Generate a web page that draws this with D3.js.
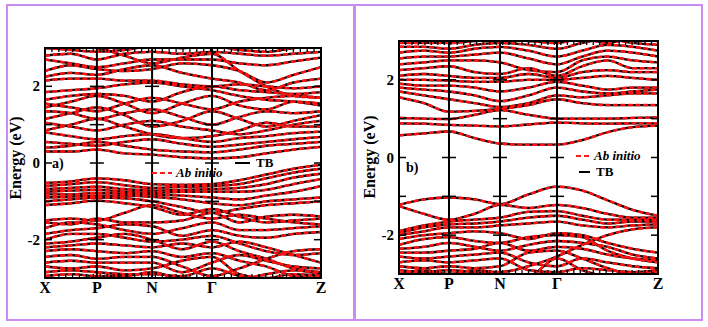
<!DOCTYPE html>
<html>
<head>
<meta charset="utf-8">
<script src="https://cdn.jsdelivr.net/npm/d3@7"></script>
<style>
  body { margin: 0; background: #fff; }
  svg { display: block; }
  text { font-family: "Liberation Serif", "Times New Roman", serif; font-weight: bold; }
</style>
</head>
<body>
<div class="canvas"></div>
<script>
// k-path labels and positions (fraction of path length)
const kLabels = ['X', 'P', 'N', 'Γ', 'Z'];
const kSymA = [0, 0.188, 0.388, 0.605, 1];
const kSymB = [0, 0.193, 0.390, 0.610, 1];
// sample points along the path for each band
const kA = [0, 0.094, 0.188, 0.288, 0.388, 0.497, 0.605, 0.704, 0.802, 0.901, 1];
const kB = [0, 0.096, 0.193, 0.292, 0.390, 0.500, 0.610, 0.707, 0.805, 0.902, 1];

const yTicks = [-2, -1, 0, 1, 2];
const yTickLabels = ['-2', '', '0', '', '2'];

// panel a) bands (eV)
const condA = [
  [0.30, 0.30, 0.35, 0.25, 0.22, 0.15, 0.12, 0.15, 0.25, 0.35, 0.42],
  [0.40, 0.45, 0.55, 0.45, 0.35, 0.30, 0.28, 0.35, 0.45, 0.50, 0.55],
  [0.55, 0.50, 0.45, 0.55, 0.62, 0.50, 0.42, 0.48, 0.55, 0.62, 0.68],
  [0.80, 0.70, 0.62, 0.70, 0.75, 0.65, 0.55, 0.65, 0.70, 0.78, 0.82],
  [0.85, 1.00, 1.15, 0.95, 0.75, 0.65, 0.70, 0.85, 1.05, 0.95, 0.95],
  [1.05, 0.95, 0.85, 1.00, 1.10, 0.95, 0.85, 0.75, 0.85, 1.00, 1.10],
  [1.15, 1.30, 1.45, 1.25, 0.95, 1.10, 1.35, 1.15, 0.95, 1.10, 1.25],
  [1.35, 1.30, 1.15, 1.30, 1.40, 1.20, 1.00, 1.20, 1.35, 1.30, 1.35],
  [1.45, 1.60, 1.75, 1.55, 1.30, 1.55, 1.75, 1.50, 1.40, 1.60, 1.55],
  [1.55, 1.45, 1.35, 1.55, 1.70, 1.55, 1.40, 1.60, 1.70, 1.75, 1.70],
  [1.65, 1.75, 1.80, 1.75, 1.60, 1.85, 2.00, 1.90, 1.85, 1.80, 1.85],
  [1.85, 1.90, 1.95, 2.05, 2.10, 2.00, 1.90, 1.75, 1.65, 1.60, 1.50],
  [2.15, 2.20, 2.20, 2.15, 2.15, 2.05, 2.00, 2.05, 2.00, 1.95, 2.00],
  [2.25, 2.35, 2.30, 2.45, 2.55, 2.35, 2.20, 2.10, 1.90, 2.10, 2.20],
  [2.40, 2.55, 2.45, 2.40, 2.45, 2.60, 2.55, 2.40, 2.10, 2.30, 2.50],
  [2.70, 2.60, 2.50, 2.60, 2.70, 2.70, 2.70, 2.60, 2.55, 2.65, 2.75],
  [2.80, 2.85, 2.70, 2.85, 2.90, 2.85, 2.90, 2.85, 2.80, 2.85, 2.90],
  [3.00, 2.95, 2.90, 2.95, 3.05, 3.00, 3.05, 2.95, 2.90, 3.00, 3.05],
  [3.10, 3.05, 3.00, 2.80, 2.60, 2.75, 2.85, 2.40, 2.00, 1.75, 1.70]
];
const valA = [
  [-0.52, -0.48, -0.40, -0.45, -0.55, -0.57, -0.55, -0.45, -0.30, -0.15, -0.05],
  [-0.60, -0.55, -0.50, -0.58, -0.65, -0.62, -0.60, -0.55, -0.40, -0.25, -0.15],
  [-0.68, -0.65, -0.62, -0.68, -0.72, -0.70, -0.68, -0.65, -0.55, -0.38, -0.28],
  [-0.75, -0.72, -0.70, -0.75, -0.78, -0.75, -0.75, -0.75, -0.70, -0.55, -0.42],
  [-0.82, -0.82, -0.78, -0.80, -0.82, -0.85, -0.90, -0.95, -0.85, -0.75, -0.60],
  [-0.90, -0.88, -0.85, -0.85, -0.88, -0.95, -1.05, -1.10, -1.00, -0.95, -0.90],
  [-1.00, -0.95, -0.90, -0.92, -1.00, -1.15, -1.30, -1.20, -1.10, -1.05, -1.00],
  [-1.10, -1.05, -0.98, -1.05, -1.15, -1.35, -1.20, -1.40, -1.55, -1.50, -1.45],
  [-1.50, -1.45, -1.50, -1.30, -1.10, -1.30, -1.45, -1.35, -1.45, -1.55, -1.60],
  [-1.55, -1.60, -1.45, -1.55, -1.55, -1.50, -1.30, -1.55, -1.40, -1.35, -1.40],
  [-1.70, -1.55, -1.60, -1.75, -1.85, -1.70, -1.55, -1.75, -1.75, -1.70, -1.65],
  [-1.85, -1.75, -1.70, -1.60, -1.65, -1.90, -1.75, -1.90, -1.95, -1.85, -1.80],
  [-2.00, -1.85, -1.85, -1.95, -2.05, -2.00, -1.90, -2.10, -2.30, -2.40, -2.35],
  [-2.10, -2.05, -1.95, -1.85, -2.00, -2.25, -2.05, -2.30, -2.50, -2.75, -2.85],
  [-2.20, -2.15, -2.10, -2.15, -2.20, -2.10, -2.20, -2.05, -2.20, -2.40, -2.60],
  [-2.30, -2.25, -2.30, -2.35, -2.30, -2.45, -2.35, -2.55, -2.70, -2.95, -3.00],
  [-2.45, -2.40, -2.50, -2.45, -2.45, -2.70, -2.95, -2.75, -2.50, -2.30, -2.25],
  [-2.60, -2.55, -2.60, -2.60, -2.60, -2.85, -2.60, -2.40, -2.55, -2.70, -2.75],
  [-2.70, -2.75, -2.70, -2.80, -2.75, -2.55, -2.45, -2.90, -3.00, -2.90, -2.95],
  [-2.85, -2.80, -2.85, -2.90, -2.90, -2.95, -2.75, -2.95, -3.10, -3.10, -3.10],
  [-2.95, -2.90, -2.95, -2.95, -2.85, -3.05, -3.10, -3.05, -2.90, -2.80, -2.90]
];

// panel b) bands (eV)
const condB = [
  [0.57, 0.62, 0.67, 0.50, 0.36, 0.33, 0.33, 0.45, 0.65, 0.78, 0.82],
  [0.88, 0.87, 0.84, 0.82, 0.80, 0.85, 0.90, 0.88, 0.87, 0.88, 0.88],
  [1.02, 1.00, 0.99, 1.10, 1.22, 1.10, 1.00, 1.00, 1.00, 1.02, 1.03],
  [1.55, 1.40, 1.18, 1.20, 1.25, 1.35, 1.50, 1.40, 1.35, 1.35, 1.35],
  [1.70, 1.60, 1.50, 1.40, 1.30, 1.40, 1.60, 1.55, 1.60, 1.65, 1.65],
  [1.80, 1.75, 1.70, 1.60, 1.45, 1.60, 1.80, 1.70, 1.65, 1.70, 1.75],
  [1.90, 1.85, 1.85, 1.80, 1.70, 1.80, 1.95, 1.85, 1.75, 1.80, 1.80],
  [2.00, 2.00, 1.98, 1.95, 1.95, 2.00, 2.00, 2.05, 2.10, 2.05, 2.00],
  [2.10, 2.15, 2.10, 2.05, 2.05, 2.15, 2.05, 2.20, 2.25, 2.20, 2.20],
  [2.25, 2.30, 2.35, 2.20, 2.15, 2.30, 2.10, 2.35, 2.50, 2.30, 2.30],
  [2.40, 2.45, 2.50, 2.50, 2.45, 2.25, 2.20, 2.50, 2.60, 2.50, 2.45],
  [2.55, 2.60, 2.60, 2.65, 2.70, 2.55, 2.40, 2.60, 2.75, 2.70, 2.60],
  [2.70, 2.75, 2.70, 2.80, 2.85, 2.75, 2.60, 2.75, 2.90, 2.85, 2.75],
  [2.85, 2.85, 2.80, 2.90, 2.95, 2.90, 2.80, 2.95, 3.05, 2.95, 2.90],
  [2.95, 2.95, 2.95, 3.00, 3.05, 3.00, 2.95, 3.05, 2.95, 3.05, 3.00]
];
const valB = [
  [-1.22, -1.08, -1.03, -1.08, -1.20, -0.95, -0.75, -0.85, -1.10, -1.35, -1.50],
  [-1.25, -1.45, -1.60, -1.45, -1.22, -1.30, -1.22, -1.30, -1.45, -1.55, -1.55],
  [-1.90, -1.75, -1.65, -1.60, -1.55, -1.40, -1.38, -1.50, -1.60, -1.60, -1.60],
  [-1.95, -1.80, -1.72, -1.70, -1.65, -1.55, -1.50, -1.60, -1.70, -1.65, -1.65],
  [-2.00, -1.90, -1.80, -1.80, -1.75, -1.70, -1.65, -1.75, -1.80, -1.75, -1.72],
  [-2.10, -2.00, -1.95, -1.90, -1.95, -2.10, -1.95, -2.00, -2.20, -2.35, -2.45],
  [-2.25, -2.10, -2.05, -2.15, -2.20, -2.05, -2.00, -2.05, -2.40, -2.60, -2.70],
  [-2.35, -2.30, -2.20, -2.30, -2.40, -2.25, -2.15, -2.20, -2.30, -2.50, -2.60],
  [-2.45, -2.45, -2.40, -2.35, -2.20, -2.40, -2.30, -2.35, -2.50, -2.60, -2.65],
  [-2.55, -2.60, -2.55, -2.50, -2.45, -2.70, -2.80, -2.60, -2.70, -2.80, -2.85],
  [-2.70, -2.65, -2.70, -2.65, -2.60, -2.90, -2.95, -2.85, -2.90, -2.95, -2.90],
  [-2.80, -2.85, -2.80, -2.85, -2.80, -2.45, -2.40, -2.60, -2.85, -3.00, -2.95],
  [-2.90, -2.95, -2.90, -2.95, -3.00, -3.05, -2.60, -2.90, -3.05, -3.00, -3.05],
  [-3.00, -2.90, -3.00, -2.90, -2.95, -2.80, -2.55, -2.25, -2.00, -1.85, -1.80]
];

const width = 708, height = 327;

const svg = d3.select('.canvas')
  .append('svg')
  .attr('width', width)
  .attr('height', height);

// purple outer boxes
svg.append('rect')
  .attr('x', 7).attr('y', 5).attr('width', 347).attr('height', 315)
  .attr('fill', 'none').attr('stroke', '#c98cf2').attr('stroke-width', 2);
svg.append('rect')
  .attr('x', 355).attr('y', 5).attr('width', 347).attr('height', 315)
  .attr('fill', 'none').attr('stroke', '#c98cf2').attr('stroke-width', 2);

const panels = [
  { id: 'a', box: {left: 45, right: 321, top: 48, bottom: 278}, kSym: kSymA, k: kA,
    bands: condA.concat(valA), tag: 'a)', tagPos: [52, 168],
    ylabX: 21, ylabY: 158, tickLabX: 40,
    legend: {red: [152, 172, 173], black: [235, 250, 163]} },
  { id: 'b', box: {left: 399, right: 658, top: 41, bottom: 274}, kSym: kSymB, k: kB,
    bands: condB.concat(valB), tag: 'b)', tagPos: [406, 172],
    ylabX: 375, ylabY: 157, tickLabX: 394,
    legend: {red: [576, 590, 156], black: [579, 590, 172]} }
];

panels.forEach(p => {
  const b = p.box;
  const x = d3.scaleLinear().domain([0, 1]).range([b.left, b.right]);
  const y = d3.scaleLinear().domain([-3, 3]).range([b.bottom, b.top]);

  const g = svg.append('g');

  g.append('clipPath').attr('id', 'clip-' + p.id)
    .append('rect')
    .attr('x', b.left).attr('y', b.top)
    .attr('width', b.right - b.left).attr('height', b.bottom - b.top);

  // bands: TB solid black under ab initio red dashes
  const line = d3.line()
    .x((d, i) => x(p.k[i]))
    .y(d => y(d))
    .curve(d3.curveMonotoneX);

  const bandG = g.append('g').attr('clip-path', `url(#clip-${p.id})`);
  bandG.selectAll('path.tb')
    .data(p.bands)
    .enter().append('path')
    .attr('class', 'tb')
    .attr('d', line)
    .attr('fill', 'none')
    .attr('stroke', '#000')
    .attr('stroke-width', 2.3);
  bandG.selectAll('path.ai')
    .data(p.bands)
    .enter().append('path')
    .attr('class', 'ai')
    .attr('d', line)
    .attr('fill', 'none')
    .attr('stroke', '#ff1010')
    .attr('stroke-width', 2.5)
    .attr('stroke-dasharray', '5,2.5');

  // minor ticks along top and bottom
  const minor = d3.range(0, 1.0001, 0.025);
  g.selectAll('line.tt').data(minor).enter().append('line')
    .attr('x1', d => x(d)).attr('x2', d => x(d))
    .attr('y1', b.top).attr('y2', b.top + 4)
    .attr('stroke', '#000').attr('stroke-width', 1.3);
  g.selectAll('line.bt').data(minor).enter().append('line')
    .attr('x1', d => x(d)).attr('x2', d => x(d))
    .attr('y1', b.bottom).attr('y2', b.bottom - 4)
    .attr('stroke', '#000').attr('stroke-width', 1.3);

  // high-symmetry vertical lines
  g.selectAll('line.sym').data(p.kSym.slice(1, -1)).enter().append('line')
    .attr('x1', d => x(d)).attr('x2', d => x(d))
    .attr('y1', b.top).attr('y2', b.bottom)
    .attr('stroke', '#000').attr('stroke-width', 2);

  // energy ticks: left, right and crossing each vertical line
  yTicks.forEach(t => {
    g.append('line').attr('x1', b.left).attr('x2', b.left + 7)
      .attr('y1', y(t)).attr('y2', y(t)).attr('stroke', '#000').attr('stroke-width', 1.5);
    g.append('line').attr('x1', b.right - 7).attr('x2', b.right)
      .attr('y1', y(t)).attr('y2', y(t)).attr('stroke', '#000').attr('stroke-width', 1.5);
    p.kSym.slice(1, -1).forEach(k => {
      g.append('line').attr('x1', x(k) - 7).attr('x2', x(k) + 7)
        .attr('y1', y(t)).attr('y2', y(t)).attr('stroke', '#000').attr('stroke-width', 1.5);
    });
  });

  // frame
  g.append('rect')
    .attr('x', b.left).attr('y', b.top)
    .attr('width', b.right - b.left).attr('height', b.bottom - b.top)
    .attr('fill', 'none').attr('stroke', '#000').attr('stroke-width', 2);

  // y tick labels
  g.selectAll('text.yl').data(yTicks).enter().append('text')
    .attr('x', p.tickLabX).attr('y', d => y(d) + 5)
    .attr('text-anchor', 'end')
    .attr('font-size', 15)
    .text((d, i) => yTickLabels[i]);

  // k labels
  g.selectAll('text.kl').data(p.kSym).enter().append('text')
    .attr('x', d => x(d)).attr('y', b.bottom + 15)
    .attr('text-anchor', 'middle')
    .attr('font-size', 16)
    .text((d, i) => kLabels[i]);

  // axis title
  g.append('text')
    .attr('transform', `translate(${p.ylabX},${p.ylabY}) rotate(-90)`)
    .attr('text-anchor', 'middle')
    .attr('font-size', 16)
    .text('Energy (eV)');

  // panel tag
  g.append('text')
    .attr('x', p.tagPos[0]).attr('y', p.tagPos[1])
    .attr('font-size', 14)
    .text(p.tag);

  // legend
  const L = p.legend;
  g.append('line')
    .attr('x1', L.red[0]).attr('x2', L.red[1]).attr('y1', L.red[2]).attr('y2', L.red[2])
    .attr('stroke', '#ff1a1a').attr('stroke-width', 2).attr('stroke-dasharray', '5,3');
  g.append('text')
    .attr('x', L.red[1] + 4).attr('y', L.red[2] + 4)
    .attr('font-size', 13).attr('font-style', 'italic').attr('font-weight', 'normal')
    .text('Ab initio');
  g.append('line')
    .attr('x1', L.black[0]).attr('x2', L.black[1]).attr('y1', L.black[2]).attr('y2', L.black[2])
    .attr('stroke', '#000').attr('stroke-width', 2);
  g.append('text')
    .attr('x', L.black[1] + 6).attr('y', L.black[2] + 4)
    .attr('font-size', 13)
    .text('TB');
});
</script>
</body>
</html>
